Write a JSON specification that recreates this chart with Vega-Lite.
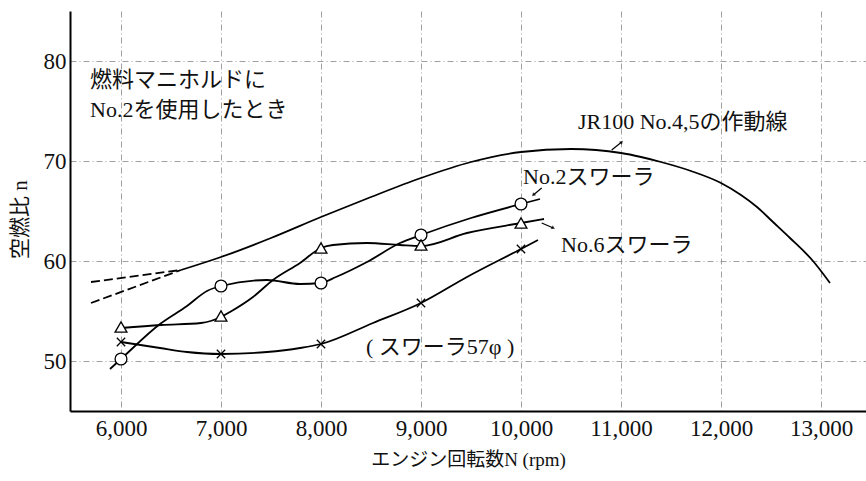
{
  "$schema": "https://vega.github.io/schema/vega-lite/v6.json",
  "width": 796,
  "height": 400,
  "autosize": {"type": "none"},
  "padding": {"left": 70, "top": 11, "right": 0, "bottom": 70},
  "background": "white",
  "config": {
    "view": {"stroke": null},
    "font": "Liberation Serif, Noto Sans CJK JP"
  },
  "datasets": {
    "curves": [
      {"s": "jr", "x": 6600, "y": 59.1},
      {"s": "jr", "x": 7000, "y": 60.4},
      {"s": "jr", "x": 7500, "y": 62.3},
      {"s": "jr", "x": 8000, "y": 64.4},
      {"s": "jr", "x": 8500, "y": 66.4},
      {"s": "jr", "x": 9000, "y": 68.3},
      {"s": "jr", "x": 9500, "y": 69.9},
      {"s": "jr", "x": 10000, "y": 70.9},
      {"s": "jr", "x": 10500, "y": 71.2},
      {"s": "jr", "x": 11000, "y": 70.8},
      {"s": "jr", "x": 11200, "y": 70.4},
      {"s": "jr", "x": 11400, "y": 69.9},
      {"s": "jr", "x": 11700, "y": 69.0},
      {"s": "jr", "x": 12000, "y": 67.8},
      {"s": "jr", "x": 12200, "y": 66.6},
      {"s": "jr", "x": 12360, "y": 65.4},
      {"s": "jr", "x": 12520, "y": 63.9},
      {"s": "jr", "x": 12690, "y": 62.3},
      {"s": "jr", "x": 12920, "y": 60.0},
      {"s": "jr", "x": 13090, "y": 57.8},
      {"s": "o", "x": 5890, "y": 49.2},
      {"s": "o", "x": 6000, "y": 50.2},
      {"s": "o", "x": 6390, "y": 53.7},
      {"s": "o", "x": 6660, "y": 55.5},
      {"s": "o", "x": 6860, "y": 57.0},
      {"s": "o", "x": 7000, "y": 57.5},
      {"s": "o", "x": 7460, "y": 58.1},
      {"s": "o", "x": 7790, "y": 57.7},
      {"s": "o", "x": 8000, "y": 57.8},
      {"s": "o", "x": 8150, "y": 58.4},
      {"s": "o", "x": 8460, "y": 59.9},
      {"s": "o", "x": 8790, "y": 61.8},
      {"s": "o", "x": 9000, "y": 62.6},
      {"s": "o", "x": 9500, "y": 64.3},
      {"s": "o", "x": 10000, "y": 65.7},
      {"s": "o", "x": 10190, "y": 66.2},
      {"s": "t", "x": 6000, "y": 53.3},
      {"s": "t", "x": 6400, "y": 53.6},
      {"s": "t", "x": 6800, "y": 53.8},
      {"s": "t", "x": 7000, "y": 54.4},
      {"s": "t", "x": 7090, "y": 54.9},
      {"s": "t", "x": 7320, "y": 56.4},
      {"s": "t", "x": 7520, "y": 58.1},
      {"s": "t", "x": 7790, "y": 59.8},
      {"s": "t", "x": 8000, "y": 61.3},
      {"s": "t", "x": 8120, "y": 61.6},
      {"s": "t", "x": 8460, "y": 61.8},
      {"s": "t", "x": 8790, "y": 61.6},
      {"s": "t", "x": 9000, "y": 61.5},
      {"s": "t", "x": 9460, "y": 62.8},
      {"s": "t", "x": 10000, "y": 63.8},
      {"s": "t", "x": 10230, "y": 64.2},
      {"s": "x", "x": 6000, "y": 51.9},
      {"s": "x", "x": 6390, "y": 51.3},
      {"s": "x", "x": 6660, "y": 50.9},
      {"s": "x", "x": 7000, "y": 50.7},
      {"s": "x", "x": 7460, "y": 50.9},
      {"s": "x", "x": 7790, "y": 51.3},
      {"s": "x", "x": 8000, "y": 51.7},
      {"s": "x", "x": 8520, "y": 53.8},
      {"s": "x", "x": 9000, "y": 55.8},
      {"s": "x", "x": 9460, "y": 58.4},
      {"s": "x", "x": 10000, "y": 61.2},
      {"s": "x", "x": 10170, "y": 62.1}
    ],
    "dashed": [
      {"s": "dA", "x": 5700, "y": 57.9},
      {"s": "dA", "x": 6600, "y": 59.1},
      {"s": "dB", "x": 5700, "y": 55.8},
      {"s": "dB", "x": 6600, "y": 59.1}
    ],
    "leaders": [
      {"s": "l1", "x": 10907, "y": 71.1},
      {"s": "l1", "x": 11007, "y": 71.9},
      {"s": "l2", "x": 10207, "y": 67.3},
      {"s": "l2", "x": 10123, "y": 66.6},
      {"s": "l3", "x": 10207, "y": 63.8},
      {"s": "l3", "x": 10323, "y": 63.3}
    ],
    "heads": [
      {"x": 11007, "y": 71.9, "a": 45},
      {"x": 10123, "y": 66.6, "a": 225},
      {"x": 10323, "y": 63.3, "a": 120}
    ],
    "markers": [
      {"s": "o", "x": 6000, "y": 50.2},
      {"s": "o", "x": 7000, "y": 57.5},
      {"s": "o", "x": 8000, "y": 57.8},
      {"s": "o", "x": 9000, "y": 62.6},
      {"s": "o", "x": 10000, "y": 65.7},
      {"s": "t", "x": 6000, "y": 53.4},
      {"s": "t", "x": 7000, "y": 54.5},
      {"s": "t", "x": 8000, "y": 61.3},
      {"s": "t", "x": 9000, "y": 61.6},
      {"s": "t", "x": 10000, "y": 63.8},
      {"s": "x", "x": 6000, "y": 51.9},
      {"s": "x", "x": 7000, "y": 50.7},
      {"s": "x", "x": 8000, "y": 51.7},
      {"s": "x", "x": 9000, "y": 55.8},
      {"s": "x", "x": 10000, "y": 61.2}
    ],
    "labels": [
      {"x": 5690, "y": 78.1, "t": "燃料マニホルドに"},
      {"x": 5690, "y": 75.1, "t": "No.2を使用したとき"},
      {"x": 10570, "y": 73.9, "t": "JR100  No.4,5の作動線"},
      {"x": 10020, "y": 68.4, "t": "No.2スワーラ"},
      {"x": 10400, "y": 61.6, "t": "No.6スワーラ"},
      {"x": 8450, "y": 51.4, "t": "( スワーラ57φ )"}
    ]
  },
  "encoding": {
    "x": {
      "field": "x", "type": "quantitative",
      "scale": {"domain": [5490, 13450], "nice": false, "zero": false},
      "axis": {
        "values": [6000, 7000, 8000, 9000, 10000, 11000, 12000, 13000],
        "format": ",d",
        "grid": true, "gridDash": [6, 3, 1, 3], "gridColor": "#888", "gridWidth": 0.8,
        "ticks": false, "domainColor": "black", "domainWidth": 2,
        "labelFont": "Liberation Serif", "labelFontSize": 23, "labelColor": "#111", "labelPadding": 6,
        "title": "エンジン回転数N (rpm)", "titleFont": "Liberation Serif, Noto Sans CJK JP",
        "titleFontSize": 19, "titleFontWeight": "normal", "titleColor": "#111", "titlePadding": 10
      }
    },
    "y": {
      "field": "y", "type": "quantitative",
      "scale": {"domain": [45, 85], "nice": false, "zero": false},
      "axis": {
        "values": [50, 60, 70, 80],
        "grid": true, "gridDash": [6, 3, 1, 3], "gridColor": "#888", "gridWidth": 0.8,
        "ticks": false, "domainColor": "black", "domainWidth": 2,
        "labelFont": "Liberation Serif", "labelFontSize": 23, "labelColor": "#111", "labelPadding": 4,
        "title": "空燃比 n", "titleFont": "Liberation Serif, Noto Sans CJK JP",
        "titleFontSize": 21, "titleFontWeight": "normal", "titleColor": "#111",
        "titleX": -40, "titleY": 208, "titleAngle": -90
      }
    }
  },
  "layer": [
    {
      "data": {"name": "curves"},
      "mark": {"type": "line", "color": "black", "strokeWidth": 1.8, "interpolate": "monotone"},
      "encoding": {"detail": {"field": "s"}}
    },
    {
      "data": {"name": "dashed"},
      "mark": {"type": "line", "color": "black", "strokeWidth": 1.8, "strokeDash": [9, 4]},
      "encoding": {"detail": {"field": "s"}}
    },
    {
      "data": {"name": "leaders"},
      "mark": {"type": "line", "color": "black", "strokeWidth": 1.2},
      "encoding": {"detail": {"field": "s"}}
    },
    {
      "data": {"name": "heads"},
      "mark": {"type": "point", "shape": "triangle-up", "filled": true, "color": "black", "size": 18},
      "encoding": {"angle": {"field": "a", "type": "quantitative", "scale": null}}
    },
    {
      "data": {"name": "markers"},
      "transform": [{"filter": "datum.s !== 'x'"}],
      "mark": {"type": "point", "filled": true, "fill": "white", "stroke": "black", "strokeWidth": 1.3, "size": 140, "opacity": 1},
      "encoding": {
        "shape": {"field": "s", "type": "nominal", "scale": {"domain": ["o", "t"], "range": ["circle", "triangle-up"]}, "legend": null}
      }
    },
    {
      "data": {"name": "markers"},
      "transform": [{"filter": "datum.s === 'x'"}],
      "mark": {"type": "point", "shape": "M-1,-1L1,1M-1,1L1,-1", "filled": false, "stroke": "black", "strokeWidth": 1.3, "size": 70, "opacity": 1}
    },
    {
      "data": {"name": "labels"},
      "mark": {"type": "text", "align": "left", "baseline": "middle", "font": "Liberation Serif, Noto Sans CJK JP", "fontSize": 22, "color": "#111"},
      "encoding": {"text": {"field": "t"}}
    }
  ]
}
